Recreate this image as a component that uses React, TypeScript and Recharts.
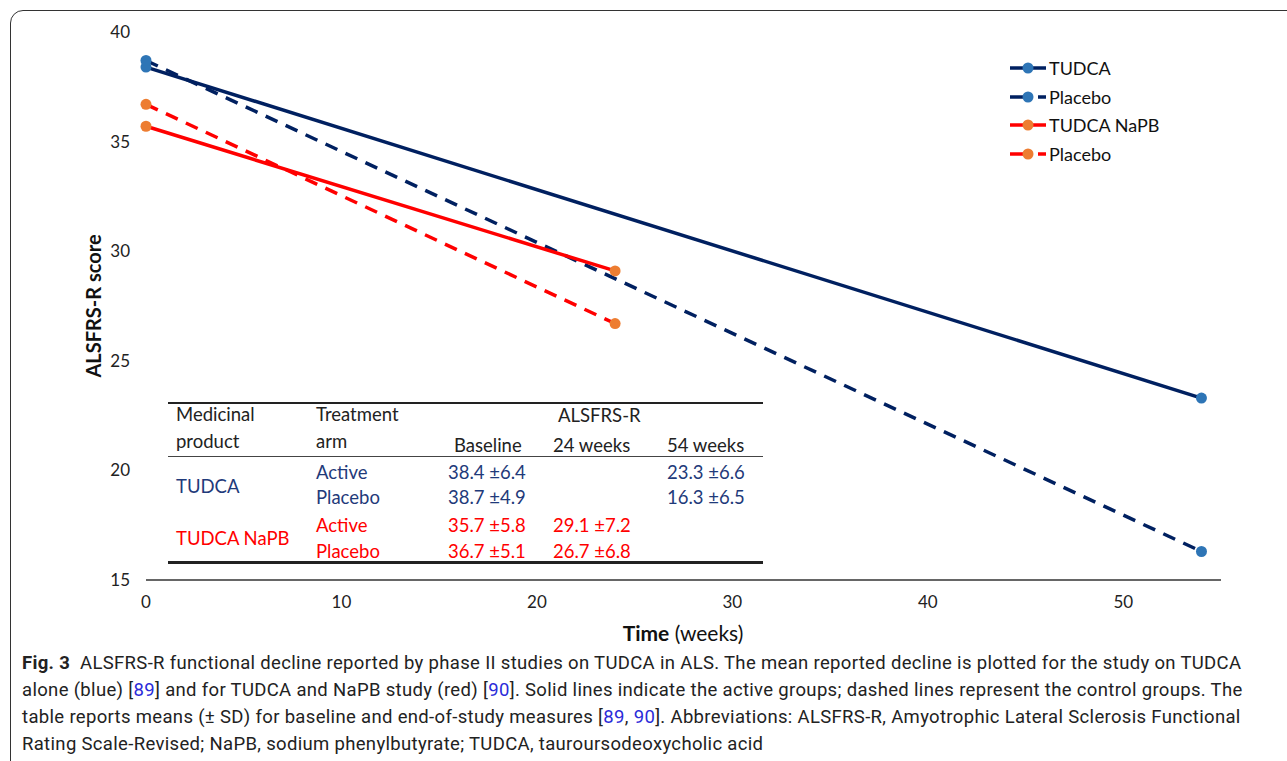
import { LineChart, Line, XAxis, YAxis } from "recharts";

const tudcaWeeks = [0, 54];
const tudcaActive = [38.4, 23.3];
const tudcaPlacebo = [38.7, 16.3];
const tudcaActiveSD = [6.4, 6.6];
const tudcaPlaceboSD = [4.9, 6.5];

const napbWeeks = [0, 24];
const napbActive = [35.7, 29.1];
const napbPlacebo = [36.7, 26.7];
const napbActiveSD = [5.8, 7.2];
const napbPlaceboSD = [5.1, 6.8];

const xTicks = [0, 10, 20, 30, 40, 50];
const yTicks = [15, 20, 25, 30, 35, 40];

const NAVY = "#002060";
const BLUE_DOT = "#2E75B6";
const RED = "#FF0000";
const ORANGE_DOT = "#ED7D31";
const TXT_BLUE = "#1F3A7A";
const FONT = "Lato, 'Open Sans', sans-serif";

const toPoints = (weeks: number[], vals: number[]) => weeks.map((w, i) => ({ week: w, score: vals[i] }));

const series = [
  { name: "TUDCA", data: toPoints(tudcaWeeks, tudcaActive), stroke: NAVY, dot: BLUE_DOT, dashed: false },
  { name: "Placebo", data: toPoints(tudcaWeeks, tudcaPlacebo), stroke: NAVY, dot: BLUE_DOT, dashed: true },
  { name: "TUDCA NaPB", data: toPoints(napbWeeks, napbActive), stroke: RED, dot: ORANGE_DOT, dashed: false },
  { name: "Placebo", data: toPoints(napbWeeks, napbPlacebo), stroke: RED, dot: ORANGE_DOT, dashed: true },
];

const fmt = (v: number, sd: number) => `${v.toFixed(1)} ±${sd.toFixed(1)}`;

function LegendBox() {
  return (
    <div style={{ position: "absolute", left: 1010, top: 54, fontFamily: FONT, fontSize: 18, color: "#111" }}>
      {series.map((s, i) => (
        <div key={i} style={{ display: "flex", alignItems: "center", height: 28.5 }}>
          <svg width={38} height={14} style={{ marginRight: 1 }}>
            {s.dashed ? (
              <>
                <line x1={0} y1={7} x2={22} y2={7} stroke={s.stroke} strokeWidth={3.5} />
                <line x1={28} y1={7} x2={36} y2={7} stroke={s.stroke} strokeWidth={3.5} />
              </>
            ) : (
              <line x1={0} y1={7} x2={36} y2={7} stroke={s.stroke} strokeWidth={3.5} />
            )}
            <circle cx={18} cy={7} r={5.5} fill={s.dot} />
          </svg>
          <span>{s.name}</span>
        </div>
      ))}
    </div>
  );
}

function DataTable() {
  const cell = { position: "absolute" as const, whiteSpace: "nowrap" as const };
  const rows = [
    { y: 472, arm: "Active", color: TXT_BLUE, base: fmt(tudcaActive[0], tudcaActiveSD[0]), w24: "", w54: fmt(tudcaActive[1], tudcaActiveSD[1]) },
    { y: 497, arm: "Placebo", color: TXT_BLUE, base: fmt(tudcaPlacebo[0], tudcaPlaceboSD[0]), w24: "", w54: fmt(tudcaPlacebo[1], tudcaPlaceboSD[1]) },
    { y: 525, arm: "Active", color: RED, base: fmt(napbActive[0], napbActiveSD[0]), w24: fmt(napbActive[1], napbActiveSD[1]), w54: "" },
    { y: 551, arm: "Placebo", color: RED, base: fmt(napbPlacebo[0], napbPlaceboSD[0]), w24: fmt(napbPlacebo[1], napbPlaceboSD[1]), w54: "" },
  ];
  const mid = (y: number) => ({ top: y - 12, lineHeight: "24px" });
  return (
    <div style={{ position: "absolute", left: 0, top: 0, fontFamily: FONT, fontSize: 18.5, color: "#222" }}>
      <div style={{ position: "absolute", left: 168, top: 402, width: 595, height: 2, background: "#222" }} />
      <div style={{ position: "absolute", left: 168, top: 456, width: 595, height: 1, background: "#444" }} />
      <div style={{ position: "absolute", left: 168, top: 561, width: 595, height: 3, background: "#222" }} />
      <div style={{ ...cell, left: 176, ...mid(414) }}>Medicinal</div>
      <div style={{ ...cell, left: 176, ...mid(441) }}>product</div>
      <div style={{ ...cell, left: 316, ...mid(414) }}>Treatment</div>
      <div style={{ ...cell, left: 316, ...mid(441) }}>arm</div>
      <div style={{ ...cell, left: 558, ...mid(415) }}>ALSFRS-R</div>
      <div style={{ ...cell, left: 454, ...mid(445) }}>Baseline</div>
      <div style={{ ...cell, left: 553, ...mid(445) }}>24 weeks</div>
      <div style={{ ...cell, left: 667, ...mid(445) }}>54 weeks</div>
      <div style={{ ...cell, left: 176, color: TXT_BLUE, ...mid(486) }}>TUDCA</div>
      <div style={{ ...cell, left: 176, color: RED, ...mid(538) }}>TUDCA NaPB</div>
      {rows.map((r, i) => (
        <div key={i} style={{ color: r.color }}>
          <div style={{ ...cell, left: 316, ...mid(r.y) }}>{r.arm}</div>
          <div style={{ ...cell, left: 448, ...mid(r.y) }}>{r.base}</div>
          <div style={{ ...cell, left: 553, ...mid(r.y) }}>{r.w24}</div>
          <div style={{ ...cell, left: 667, ...mid(r.y) }}>{r.w54}</div>
        </div>
      ))}
    </div>
  );
}

const REF = "#2b2bd9";

function Caption() {
  const line = { position: "absolute" as const, left: 22, whiteSpace: "nowrap" as const, lineHeight: "27px" };
  return (
    <div
      style={{
        position: "absolute",
        left: 0,
        top: 0,
        fontFamily: "Roboto, sans-serif",
        fontSize: 18.5,
        letterSpacing: 0.33,
        color: "#222",
      }}
    >
      <div style={{ ...line, top: 650 }}>
        <b>Fig. 3</b>&nbsp;&nbsp;ALSFRS-R functional decline reported by phase II studies on TUDCA in ALS. The mean reported decline is plotted for the study on TUDCA
      </div>
      <div style={{ ...line, top: 677 }}>
        alone (blue) [<span style={{ color: REF }}>89</span>] and for TUDCA and NaPB study (red) [<span style={{ color: REF }}>90</span>]. Solid lines indicate the active groups; dashed lines represent the control groups. The
      </div>
      <div style={{ ...line, top: 704 }}>
        table reports means (± SD) for baseline and end-of-study measures [<span style={{ color: REF }}>89</span>, <span style={{ color: REF }}>90</span>]. Abbreviations: ALSFRS-R, Amyotrophic Lateral Sclerosis Functional
      </div>
      <div style={{ ...line, top: 731 }}>Rating Scale-Revised; NaPB, sodium phenylbutyrate; TUDCA, tauroursodeoxycholic acid</div>
    </div>
  );
}

export default function App() {
  return (
    <div style={{ position: "absolute", left: 0, top: 0, width: 1287, height: 761, overflow: "hidden", background: "#fff" }}>
      <div style={{ position: "absolute", left: 10, top: 10, width: 1320, height: 800, border: "1.3px solid #333", borderRadius: 13 }} />
      <div style={{ position: "absolute", left: 0, top: 0 }}>
        <LineChart width={1287} height={620} margin={{ top: 32, right: 66, left: 0, bottom: 0 }}>
          <XAxis
            dataKey="week"
            type="number"
            domain={[0, 55]}
            ticks={xTicks}
            allowDuplicatedCategory={false}
            height={40}
            tickLine={false}
            tickSize={0}
            tickMargin={16}
            axisLine={{ stroke: "#333", strokeWidth: 1.6 }}
            tick={{ fill: "#222", fontSize: 17, fontFamily: FONT }}
          />
          <YAxis
            type="number"
            domain={[15, 40]}
            ticks={yTicks}
            width={146}
            axisLine={false}
            tickLine={false}
            tickSize={0}
            tickMargin={16}
            tick={{ fill: "#222", fontSize: 17, fontFamily: FONT }}
          />
          {series.map((s, i) => (
            <Line
              key={i}
              data={s.data}
              dataKey="score"
              name={s.name}
              type="linear"
              stroke={s.stroke}
              strokeWidth={3.5}
              strokeDasharray={s.dashed ? "13 9" : undefined}
              dot={{ r: 5.5, fill: s.dot, stroke: "none" }}
              activeDot={false}
              isAnimationActive={false}
            />
          ))}
        </LineChart>
      </div>
      <LegendBox />
      <div
        style={{
          position: "absolute",
          left: 93,
          top: 306,
          transform: "translate(-50%, -50%) rotate(-90deg)",
          fontFamily: FONT,
          fontWeight: 700,
          fontSize: 20,
          color: "#111",
          whiteSpace: "nowrap",
        }}
      >
        ALSFRS-R score
      </div>
      <div
        style={{
          position: "absolute",
          left: 683,
          top: 632,
          transform: "translate(-50%, -50%)",
          fontFamily: FONT,
          fontSize: 21,
          color: "#111",
          whiteSpace: "nowrap",
        }}
      >
        <b>Time</b> (weeks)
      </div>
      <DataTable />
      <Caption />
    </div>
  );
}
